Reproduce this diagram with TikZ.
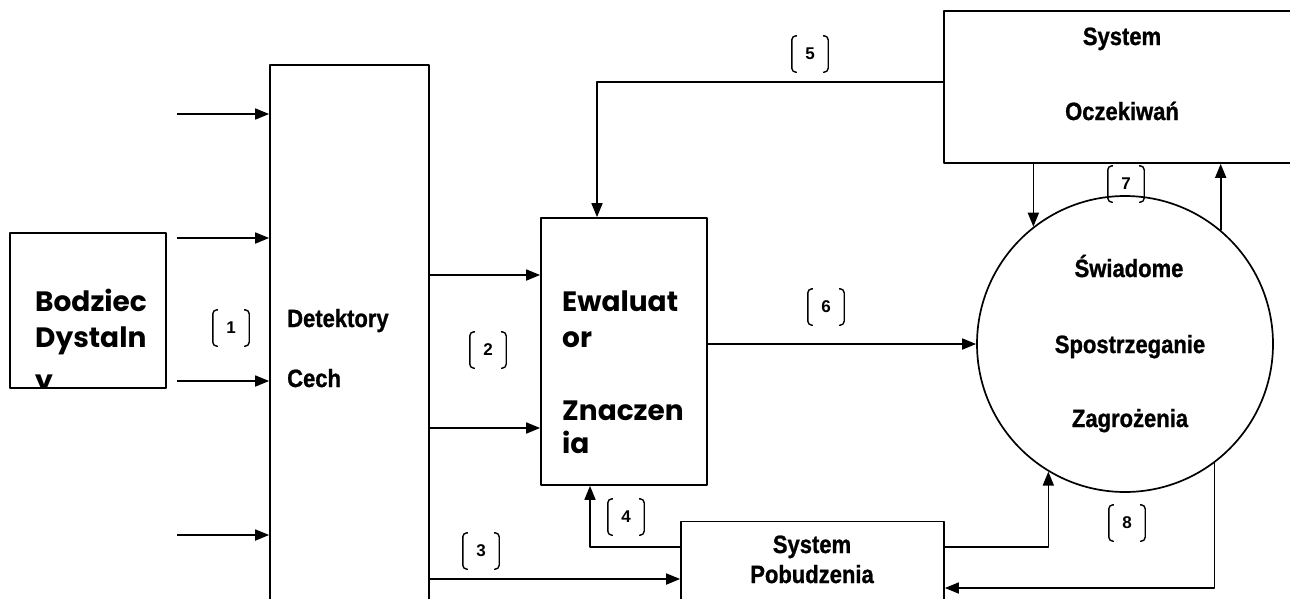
\documentclass[tikz,border=0pt]{standalone}
\usepackage{fontspec}
\setmainfont{Liberation Sans}[BoldFont={Liberation Sans Bold}]
\newfontfamily\narrowfont{Liberation Sans Bold}[FakeStretch=0.88, FakeBold=1]
\newfontfamily\geofont{Poppins}[BoldFont={Poppins Bold}]
\usetikzlibrary{arrows.meta}

\begin{document}
\begin{tikzpicture}[
        x = 1pt, y = -1pt,
        line join = round,
        box/.style = {draw, line width=1.7pt, rectangle, inner sep=0pt},
        arr/.style = {line width=1.7pt, -{Triangle[length=14pt, width=11pt]}},
        lbl/.style = {font=\narrowfont\fontsize{25}{25}\selectfont, anchor=base, inner sep=0pt},
        big/.style = {font=\geofont\fontsize{28}{28}\selectfont\bfseries, anchor=base west, inner sep=0pt},
        numbox/.style = {minimum width=36pt, minimum height=36pt, inner sep=0pt, font=\fontsize{17}{17}\selectfont\bfseries},
        bracket/.style = {line width=1.4pt, rounded corners=4pt}
    ]

    \useasboundingbox (0,0) rectangle (1290,598);

    % blocks
    \node[box, minimum width=156pt, minimum height=155pt] (bodziec) at (88,310.5) {};
    \node[box, minimum width=159pt, minimum height=555pt] (detektory) at (349.5,342.5) {};
    \node[box, minimum width=166pt, minimum height=267pt] (ewaluator) at (624,351.5) {};
    \node[box, minimum width=356pt, minimum height=152pt] (oczekiwan) at (1122,87) {};
    \node[box, minimum width=263pt, minimum height=99pt] (pobudzenia) at (812.5,571) {};
    \node[draw, circle, line width=1.7pt, minimum size=296pt, inner sep=0pt] (swiadome) at (1125,344) {};

    % texts
    \begin{scope}
        \clip (bodziec.north west) rectangle (bodziec.south east);
        \node[big] (b1) at (35,311) {Bodziec};
        \node[big] (b2) at (35,347) {Dystaln};
        \node[big] (b3) at (35,390) {y};
    \end{scope}

    \node[lbl, anchor=base west] (d1) at (287,327) {Detektory};
    \node[lbl, anchor=base west] (d2) at (287,387) {Cech};

    \node[big] (e1) at (562,311) {Ewaluat};
    \node[big] (e2) at (562,347) {or};
    \node[big] (e3) at (562,420) {Znaczen};
    \node[big] (e4) at (562,453) {ia};

    \node[lbl] (o1) at (1122,45) {System};
    \node[lbl] (o2) at (1122,120) {Oczekiwań};

    \node[lbl] (p1) at (812,553) {System};
    \node[lbl] (p2) at (812,583) {Pobudzenia};

    \node[lbl] (s1) at (1129,277) {Świadome};
    \node[lbl] (s2) at (1130,353) {Spostrzeganie};
    \node[lbl] (s3) at (1130,427) {Zagrożenia};

    % inputs
    \foreach \y [count=\i] in {114, 238, 381, 535} {
        \coordinate (in\i) at (177,\y);
        \draw[arr] (in\i) -- (in\i -| detektory.west);
    }

    % connectors
    \draw[arr] (detektory.east |- 0,275) -- (ewaluator.west |- 0,275);
    \draw[arr] (detektory.east |- 0,428) -- (ewaluator.west |- 0,428);
    \draw[arr] (detektory.east |- 0,579) -- (pobudzenia.west |- 0,579);
    \draw[arr] (pobudzenia.west |- 0,547) -| (ewaluator.south -| 590,0);
    \draw[arr] (oczekiwan.west |- 0,82) -| (ewaluator.north -| 597,0);
    \draw[arr] (ewaluator.east |- swiadome.west) -- (swiadome.west);
    \draw[arr] (swiadome.128 |- oczekiwan.south) -- (swiadome.128);
    \draw[arr] (swiadome.50) -- (swiadome.50 |- oczekiwan.south);
    \draw[arr] (pobudzenia.east |- 0,547) -| (swiadome.239);
    \draw[arr] (swiadome.307) |- (pobudzenia.east |- 0,588);

    % numbers
    \foreach \n/\px/\py in {1/231/328, 2/488/350, 3/481/551, 4/626/517, 5/810/54, 6/826/307, 7/1126/184, 8/1127/523} {
        \node[numbox] (t\n) at (\px,\py) {\n};
        \draw[bracket] ([xshift=5pt]t\n.north west) -- (t\n.north west) -- (t\n.south west) -- ([xshift=5pt]t\n.south west);
        \draw[bracket] ([xshift=-5pt]t\n.north east) -- (t\n.north east) -- (t\n.south east) -- ([xshift=-5pt]t\n.south east);
    }

\end{tikzpicture}
\end{document}
